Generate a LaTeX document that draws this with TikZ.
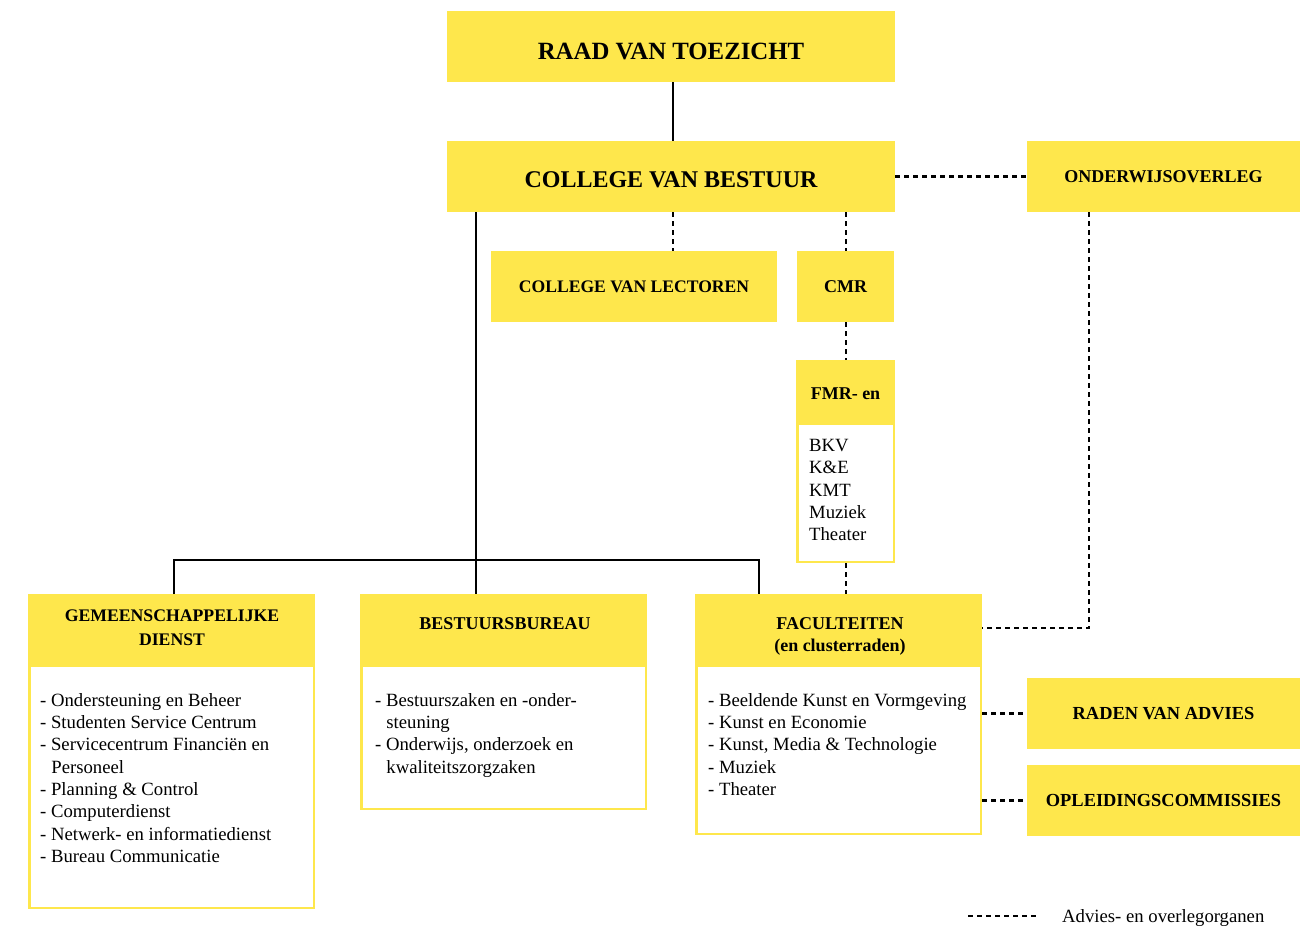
\documentclass[tikz,border=0pt]{standalone}
\usepackage{fontspec}
\setmainfont{Liberation Serif}
\usetikzlibrary{calc}
\definecolor{yel}{RGB}{254,231,76}
\begin{document}
\begin{tikzpicture}[x=1pt,y=-1pt,
  ybox/.style={fill=yel, inner sep=0pt, align=center, font=\bfseries\fontsize{18}{22}\selectfont},
  ttl/.style={inner sep=0pt, align=center, font=\bfseries\fontsize{18}{22}\selectfont},
  body/.style={fill=white, draw=yel, line width=2.5pt, inner sep=0pt},
  list/.style={anchor=north west, align=left, inner sep=0pt, font=\fontsize{18.7}{22.35}\selectfont},
  solidc/.style={line width=2.2pt},
  dotc/.style={line width=2.5pt, dash pattern=on 4.5pt off 4.5pt}]
\useasboundingbox (0,0) rectangle (1306,926);
% reference coordinates
\coordinate (x673) at (673,0);
\coordinate (x846) at (846,0);
\coordinate (x476) at (476,0);
\coordinate (x174) at (174,0);
\coordinate (x759) at (759,0);
\coordinate (x1089) at (1089,0);
\coordinate (y560) at (0,560);
\coordinate (y628) at (0,628);
% top boxes
\node[ybox, font=\bfseries\fontsize{24.8}{28}\selectfont, text height=25.4pt, text depth=0pt, minimum width=448pt, minimum height=71pt] (rvt) at (671,46.5) {RAAD VAN TOEZICHT};
\node[ybox, font=\bfseries\fontsize{24}{28}\selectfont, text height=21.4pt, text depth=0pt, minimum width=448pt, minimum height=71pt] (cvb) at (671,176.5) {COLLEGE VAN BESTUUR};
\node[ybox, minimum width=273pt, minimum height=71pt] (ow) at (1163.5,176.5) {ONDERWIJSOVERLEG};
\node[ybox, font=\bfseries\fontsize{17.6}{22}\selectfont, minimum width=286pt, minimum height=71pt] (lect) at (634,286.5) {COLLEGE VAN LECTOREN};
\node[ybox, minimum width=97pt, minimum height=71pt] (cmr) at (845.5,286.5) {CMR};
% FMR
\node[body, minimum width=96.5pt, minimum height=200.5pt] (fmr) at (845.5,461.5) {};
\node[fill=yel, inner sep=0pt, minimum width=99pt, minimum height=65pt] (fmrh) at (845.5,392.5) {};
\node[ttl] (fmrt) at (845.5,394) {FMR- en};
\node[list] (fmrl) at (809,439) {BKV\\K\&E\\KMT\\Muziek\\Theater};
% bottom boxes
\node[body, minimum width=284.5pt, minimum height=312.5pt] (gd) at (171.5,751.5) {};
\node[fill=yel, inner sep=0pt, minimum width=287pt, minimum height=73pt] (gdh) at (171.5,630.5) {};
\node[ttl, font=\bfseries\fontsize{17.7}{24}\selectfont] (gdt) at (172,628) {GEMEENSCHAPPELIJKE\\DIENST};
\node[list] (gdl) at (40,693) {- Ondersteuning en Beheer\\- Studenten Service Centrum\\- Servicecentrum Financiën en\\\hspace*{0.6em}Personeel\\- Planning \& Control\\- Computerdienst\\- Netwerk- en informatiedienst\\- Bureau Communicatie};
\node[body, minimum width=284.5pt, minimum height=213.5pt] (bb) at (503.5,702) {};
\node[fill=yel, inner sep=0pt, minimum width=287pt, minimum height=73pt] (bbh) at (503.5,630.5) {};
\node[ttl] (bbt) at (505,624) {BESTUURSBUREAU};
\node[list] (bbl) at (375,693) {- Bestuurszaken en -onder-\\\hspace*{0.6em}steuning\\- Onderwijs, onderzoek en\\\hspace*{0.6em}kwaliteitszorgzaken};
\node[body, minimum width=284.5pt, minimum height=238.5pt] (fac) at (838.5,714.5) {};
\node[fill=yel, inner sep=0pt, minimum width=287pt, minimum height=73pt] (fach) at (838.5,630.5) {};
\node[ttl] (fact) at (840,636) {FACULTEITEN\\(en clusterraden)};
\node[list] (facl) at (708,693) {- Beeldende Kunst en Vormgeving\\- Kunst en Economie\\- Kunst, Media \& Technologie\\- Muziek\\- Theater};
% right boxes
\node[ybox, font=\bfseries\fontsize{18.4}{22}\selectfont, minimum width=273pt, minimum height=71pt] (rda) at (1163.5,713.5) {RADEN VAN ADVIES};
\node[ybox, font=\bfseries\fontsize{18.4}{22}\selectfont, minimum width=273pt, minimum height=71pt] (opl) at (1163.5,800.5) {OPLEIDINGSCOMMISSIES};
% solid connectors
\draw[solidc] (rvt.south -| x673) -- (cvb.north -| x673);
\draw[solidc] (cvb.south -| x476) -- (bb.north -| x476);
\draw[solidc] (gd.north -| x174) -- (y560 -| x174) -- (y560 -| x759) -- (fac.north -| x759);
% dotted connectors
\draw[dotc] (cvb.east) -- (ow.west);
\draw[dotc] (cvb.south -| x673) -- (lect.north -| x673);
\draw[dotc] (cvb.south -| x846) -- (cmr.north -| x846);
\draw[dotc] (cmr.south -| x846) -- (fmrh.north -| x846);
\draw[dotc] (fmr.south -| x846) -- (fac.north -| x846);
\draw[dotc] (ow.south -| x1089) -- (y628 -| x1089) -- (y628 -| fac.east);
\draw[dotc] (fac.east |- rda.west) -- (rda.west);
\draw[dotc] (fac.east |- opl.west) -- (opl.west);
% legend
\coordinate (lg1) at (968,916);
\coordinate (lg2) at (1040,916);
\draw[dotc] (lg1) -- (lg2);
\node[anchor=west, inner sep=0pt, font=\fontsize{18.7}{22}\selectfont] (leg) at (1062,918) {Advies- en overlegorganen};
\end{tikzpicture}
\end{document}
